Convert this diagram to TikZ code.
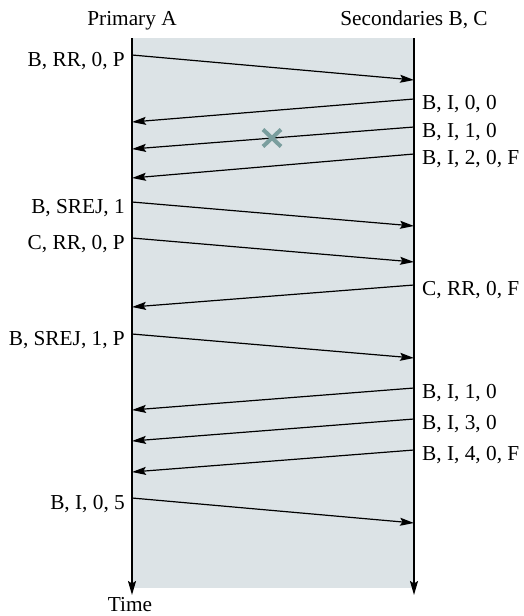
\documentclass[tikz,border=0pt]{standalone}
\usepackage{fontspec}
\setmainfont{Liberation Serif}
\usetikzlibrary{arrows.meta}
\definecolor{bgshade}{RGB}{220,227,230}
\definecolor{lostx}{RGB}{122,158,158}
\begin{document}
\begin{tikzpicture}[x=1pt,y=-1pt,
  msg/.style={line width=1.2pt,-{Stealth[length=14pt,width=8pt,inset=2.5pt]}},
  axis/.style={line width=1.6pt,-{Stealth[length=14pt,width=8pt,inset=2.5pt]}},
  lbl/.style={font=\fontsize{21.3}{24}\selectfont,inner sep=0pt},
  llbl/.style={lbl,anchor=base east},
  rlbl/.style={lbl,anchor=base west},
  cross/.style={draw=lostx,line width=4pt}]
\useasboundingbox (0,0) rectangle (523,616);
\fill[bgshade] (132,38) rectangle (414,588);
\coordinate (AT) at (132,38); \coordinate (AB) at (132,595);
\coordinate (BT) at (414,38); \coordinate (BB) at (414,595);
\draw[axis] (AT) -- (AB);
\draw[axis] (BT) -- (BB);
\node[lbl,anchor=base] (hA) at (132,25) {Primary A};
\node[lbl,anchor=base] (hB) at (414,25) {Secondaries B, C};
\node[lbl,anchor=base] (time) at (130,611) {Time};
% left-to-right messages
\foreach \n/\ys/\ye/\t in {1/55/80/{B, RR, 0, P},5/202/226/{B, SREJ, 1},6/238/262/{C, RR, 0, P},8/334/358/{B, SREJ, 1, P},12/498/523/{B, I, 0, 5}}{
  \coordinate (s\n) at (132,\ys);
  \coordinate (e\n) at (414,\ye);
  \node[llbl] (l\n) at (125,\ys+11) {\t};
  \draw[msg] (s\n) -- (e\n);
}
% right-to-left messages
\foreach \n/\ys/\ye/\t in {2/99/122/{B, I, 0, 0},3/127/149/{B, I, 1, 0},4/154/178/{B, I, 2, 0, F},7/285/307/{C, RR, 0, F},9/388/410/{B, I, 1, 0},10/419/441/{B, I, 3, 0},11/450/472/{B, I, 4, 0, F}}{
  \coordinate (s\n) at (414,\ys);
  \coordinate (e\n) at (132,\ye);
  \node[rlbl] (l\n) at (422,\ys+10) {\t};
  \draw[msg] (s\n) -- (e\n);
}
\coordinate (x) at (272,138);
\draw[cross] ([shift={(-9,-8.5)}]x) -- ([shift={(9,8.5)}]x);
\draw[cross] ([shift={(-9,8.5)}]x) -- ([shift={(9,-8.5)}]x);
\end{tikzpicture}
\end{document}
